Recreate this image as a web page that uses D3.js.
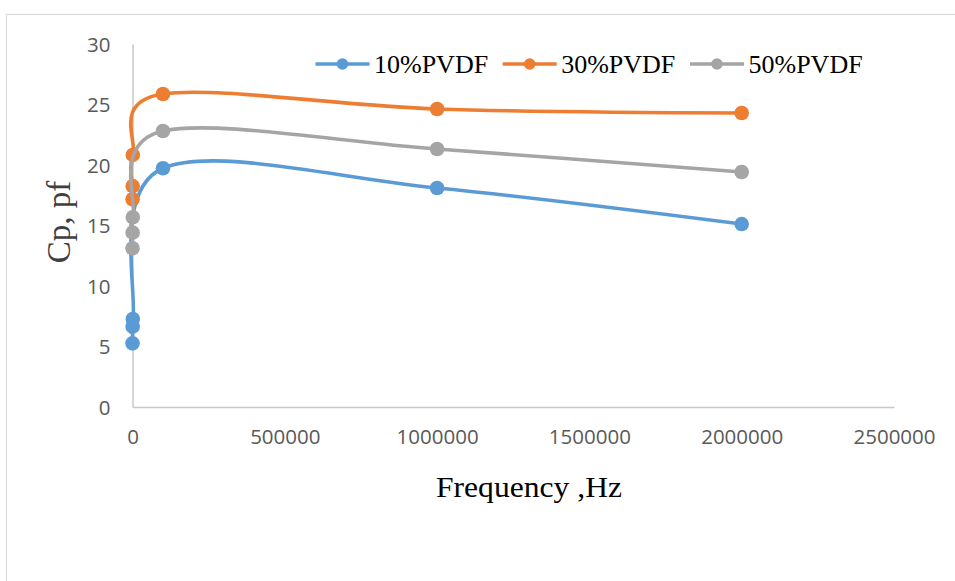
<!DOCTYPE html>
<html>
<head>
<meta charset="utf-8">
<script src="https://d3js.org/d3.v7.min.js"></script>
<style>
  body { margin: 0; background-color: #ffffff; }
  svg { display: block; }
</style>
</head>
<body>
<div id="chart"></div>
<script>

  // data (Hz, pF)
  var frequency = [100, 500, 1000, 100000, 1000000, 2000000];
  var pvdf10 = [5.26, 6.64, 7.27, 19.73, 18.10, 15.12];
  var pvdf30 = [17.17, 18.26, 20.83, 25.87, 24.63, 24.30];
  var pvdf50 = [13.12, 14.41, 15.68, 22.81, 21.32, 19.42];
  var seriesNames = ["10%PVDF", "30%PVDF", "50%PVDF"];
  var xTicks = [0, 500000, 1000000, 1500000, 2000000, 2500000];
  var yTicks = [0, 5, 10, 15, 20, 25, 30];

  var colors = ["#5b9bd5", "#ed7d31", "#a5a5a5"];
  var allSeries = [pvdf10, pvdf30, pvdf50];

  var width = 955, height = 581;
  var plot = { left: 132.5, right: 894, top: 44, bottom: 407 };

  var svg = d3.select("#chart")
    .append("svg")
    .attr("width", width)
    .attr("height", height);

  // chart frame (runs off the page to the right and bottom)
  svg.append("rect")
    .attr("x", 6.5)
    .attr("y", 14.5)
    .attr("width", 1000)
    .attr("height", 600)
    .attr("fill", "none")
    .attr("stroke", "#d9d9d9")
    .attr("stroke-width", 1.2);

  var x = d3.scaleLinear()
    .domain([0, 2500000])
    .range([plot.left, plot.right]);

  var y = d3.scaleLinear()
    .domain([0, 30])
    .range([plot.bottom, plot.top]);

  // X axis
  var xAxis = svg.append("g")
    .attr("transform", "translate(0," + plot.bottom + ")")
    .call(d3.axisBottom(x).tickValues(xTicks).tickFormat(d3.format("d")).tickSize(0).tickPadding(22));
  xAxis.select(".domain").attr("stroke", "#c8c8c8").attr("stroke-width", 1.5);

  // Y axis
  var yAxis = svg.append("g")
    .attr("transform", "translate(" + plot.left + ",0)")
    .call(d3.axisLeft(y).tickValues(yTicks).tickSize(0).tickPadding(22));
  yAxis.select(".domain").attr("stroke", "#c8c8c8").attr("stroke-width", 1.5);

  svg.selectAll(".tick text")
    .style("font-family", "'Open Sans', sans-serif")
    .style("font-size", "20.5px")
    .attr("fill", "#595959");
  yAxis.selectAll(".tick text").attr("dy", "0.35em");

  // axis titles
  svg.append("text")
    .attr("x", 529)
    .attr("y", 497)
    .attr("text-anchor", "middle")
    .style("font-family", "'Liberation Serif', 'Times New Roman', serif")
    .style("font-size", "30px")
    .attr("textLength", 186)
    .attr("lengthAdjust", "spacingAndGlyphs")
    .attr("fill", "#000000")
    .text("Frequency ,Hz");

  svg.append("text")
    .attr("transform", "translate(70,222)rotate(-90)")
    .attr("text-anchor", "middle")
    .style("font-family", "'Liberation Serif', 'Times New Roman', serif")
    .style("font-size", "33px")
    .attr("fill", "#404040")
    .text("Cp, pf");

  // smoothed lines + markers, one series at a time
  var line = d3.line()
    .x(function (d) { return x(d[0]); })
    .y(function (d) { return y(d[1]); })
    .curve(d3.curveCardinal.tension(0));

  allSeries.forEach(function (vals, i) {
    var pts = frequency.map(function (f, j) { return [f, vals[j]]; });
    var g = svg.append("g");
    g.append("path")
      .datum(pts)
      .attr("d", line)
      .attr("fill", "none")
      .attr("stroke", colors[i])
      .attr("stroke-width", 3.6);
    g.selectAll("circle")
      .data(pts)
      .enter()
      .append("circle")
      .attr("cx", function (d) { return x(d[0]); })
      .attr("cy", function (d) { return y(d[1]); })
      .attr("r", 7.3)
      .attr("fill", colors[i]);
  });

  // legend
  var legendX = [315.5, 502.7, 690];
  var legend = svg.selectAll(".legend")
    .data(seriesNames)
    .enter()
    .append("g")
    .attr("transform", function (d, i) { return "translate(" + legendX[i] + ",64)"; });

  legend.append("line")
    .attr("x1", 0)
    .attr("x2", 54)
    .attr("stroke", function (d, i) { return colors[i]; })
    .attr("stroke-width", 3.6);

  legend.append("circle")
    .attr("cx", 27)
    .attr("r", 5.8)
    .attr("fill", function (d, i) { return colors[i]; });

  legend.append("text")
    .attr("x", 58.5)
    .attr("y", 8.5)
    .style("font-family", "'Liberation Serif', 'Times New Roman', serif")
    .style("font-size", "26px")
    .attr("fill", "#000000")
    .text(function (d) { return d; });

</script>
</body>
</html>
